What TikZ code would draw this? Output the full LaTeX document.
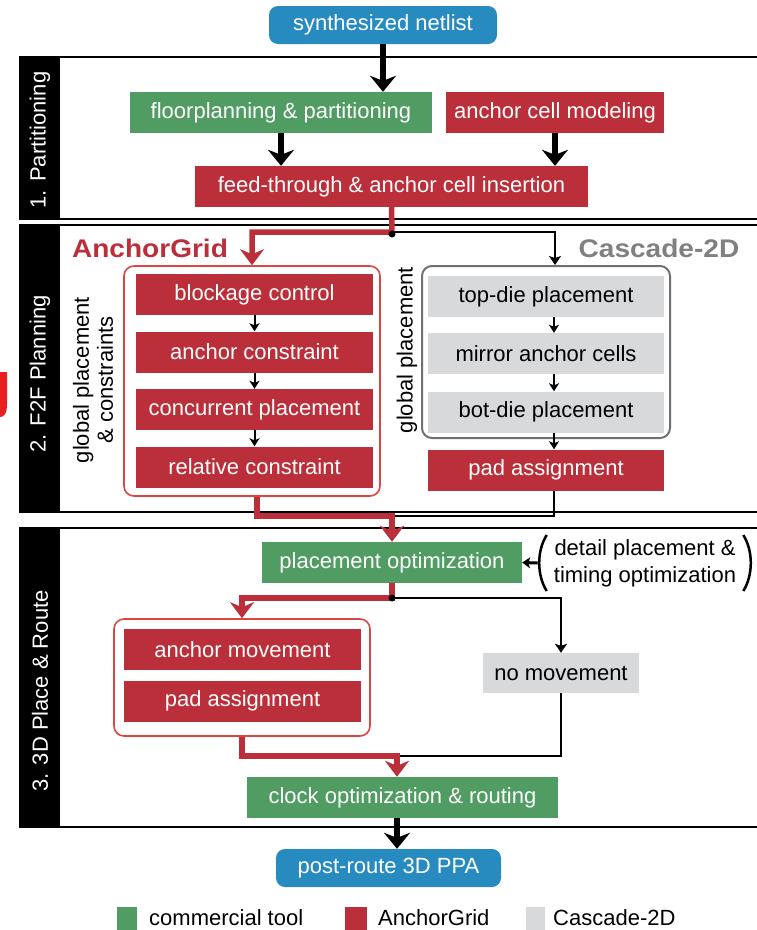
\documentclass[tikz,border=0pt]{standalone}
\usepackage{fontspec}
\setmainfont{Liberation Sans}
\usetikzlibrary{arrows.meta,calc}
\definecolor{toolgreen}{RGB}{80,156,98}
\definecolor{agred}{RGB}{186,47,57}
\definecolor{cgray}{RGB}{216,217,219}
\definecolor{flowblue}{RGB}{40,139,192}
\definecolor{framered}{RGB}{222,68,68}
\definecolor{labelgray}{RGB}{128,128,128}
\definecolor{framegray}{RGB}{112,112,112}
\definecolor{markred}{RGB}{232,32,32}

\begin{document}
\begin{tikzpicture}[x=1pt,y=-1pt,
  every node/.style={font=\fontsize{22}{26}\selectfont},
  box/.style={rectangle, inner sep=0pt, minimum height=41pt, text=white},
  gbox/.style={box, fill=toolgreen},
  rbox/.style={box, fill=agred},
  cbox/.style={box, fill=cgray, text=black},
  bbox/.style={box, fill=flowblue, rounded corners=9pt, minimum height=38pt},
  groupframe/.style={rectangle, inner sep=0pt, rounded corners=10pt},
  bigarrow/.style={line width=6pt, -{Stealth[length=16pt,width=26pt,inset=5pt]}},
  redline/.style={line width=5.5pt, draw=agred},
  redarrow/.style={redline, -{Stealth[length=16pt,width=24pt,inset=5pt]}},
  blackline/.style={line width=2.2pt},
  blackarrow/.style={blackline, -{Stealth[length=9pt,width=12pt,inset=2pt]}},
  smallarrow/.style={line width=2pt, -{Stealth[length=8pt,width=10pt,inset=2pt]}},
  parenarrow/.style={line width=3pt, -{Stealth[length=8pt,width=11pt,inset=2pt]}},
  sectionlabel/.style={rotate=90, text=white},
  grouplabel/.style={font=\fontsize{25.5}{28}\selectfont\bfseries},
]
\useasboundingbox (0,0) rectangle (756,930);

% section frames with their black side bars
\foreach \ytop/\ybot in {57/219, 225/512, 528/827} {
  \draw[line width=2pt] (19,\ytop) -- (770,\ytop);
  \draw[line width=2pt] (19,\ybot) -- (770,\ybot);
  \fill (19,\ytop) rectangle (60,\ybot);
}
\node[sectionlabel] (lab1) at (40,140) {1. Partitioning};
\node[sectionlabel] (lab2) at (40,374) {2. F2F Planning};
\node[sectionlabel] (lab3) at (40,691) {3. 3D Place \& Route};

% red mark at the left edge
\fill[markred] (0,372) -- (7,372) -- (7,404) .. controls (7,414) and (4,417) .. (0,417) -- cycle;

% 1. partitioning
\node[bbox, minimum width=228pt] (net) at (383,25) {synthesized netlist};
\node[gbox, minimum width=302pt] (fp) at (281,112.5) {floorplanning \& partitioning};
\node[rbox, minimum width=218pt] (acm) at (555,112.5) {anchor cell modeling};
\node[rbox, minimum width=393pt] (ft) at (391.5,186.5) {feed-through \& anchor cell insertion};
\draw[bigarrow] (net.south) -- (net.south |- fp.north);
\draw[bigarrow] (fp.south) -- (fp.south |- ft.north);
\draw[bigarrow] (acm.south) -- (acm.south |- ft.north);

% 2. F2F planning: AnchorGrid branch
\node[grouplabel, text=agred] (aglabel) at (150,248) {\scalebox{1.1}[1]{AnchorGrid}};
\node[groupframe, draw=framered, line width=1.6pt, minimum width=256pt, minimum height=230pt] (agframe) at (252,381) {};
\node[rbox, minimum width=237pt] (bc) at (254.5,294.5) {blockage control};
\node[rbox, minimum width=237pt] (ac) at (254.5,352) {anchor constraint};
\node[rbox, minimum width=237pt] (cp) at (254.5,409.5) {concurrent placement};
\node[rbox, minimum width=237pt] (rc) at (254.5,467) {relative constraint};
\draw[smallarrow] (bc.south) -- (ac.north);
\draw[smallarrow] (ac.south) -- (cp.north);
\draw[smallarrow] (cp.south) -- (rc.north);
\node[rotate=90, align=center, font=\fontsize{22}{24}\selectfont] (gpc) at (93,380) {global placement\\\& constraints};

% 2. F2F planning: Cascade-2D branch
\node[grouplabel, text=labelgray] (cslabel) at (659,248) {\scalebox{1.1}[1]{Cascade-2D}};
\node[groupframe, draw=framegray, line width=2pt, minimum width=248pt, minimum height=172pt] (cfr) at (546,352) {};
\node[cbox, minimum width=236pt] (td) at (546,296.5) {top-die placement};
\node[cbox, minimum width=236pt] (mac) at (546,353.5) {mirror anchor cells};
\node[cbox, minimum width=236pt] (bd) at (546,412) {bot-die placement};
\node[rbox, minimum width=236pt] (pa) at (546,470) {pad assignment};
\draw[smallarrow] ($(td.south)+(8,0)$) -- ($(mac.north)+(8,0)$);
\draw[smallarrow] ($(mac.south)+(8,0)$) -- ($(bd.north)+(8,0)$);
\draw[smallarrow] ($(bd.south)+(8,0)$) -- ($(pa.north)+(8,0)$);
\node[rotate=90] (gp) at (407,350) {global placement};

% split after feed-through insertion
\coordinate (j1) at (392,232);
\draw[blackarrow] (j1) -| ($(cfr.north)+(9,0)$);
\draw[redarrow] (ft.south) -- (j1) -| (agframe.north);
\fill (392,234) circle (3.5pt);

% 3. 3D place & route
\node[gbox, minimum width=260pt] (popt) at (392,562.5) {placement optimization};
\node[align=center, inner xsep=16pt, inner ysep=2pt, font=\fontsize{22}{27}\selectfont] (detail) at (645,563) {detail placement \&\\timing optimization};
\draw[line width=2.5pt] ($(detail.west)+(9,-28)$) .. controls ($(detail.west)+(-1,-12)$) and ($(detail.west)+(-1,12)$) .. ($(detail.west)+(9,28)$);
\draw[line width=2.5pt] ($(detail.east)+(-9,-28)$) .. controls ($(detail.east)+(1,-12)$) and ($(detail.east)+(1,12)$) .. ($(detail.east)+(-9,28)$);
\draw[parenarrow] (detail.west) -- (popt.east);

% merge after F2F planning
\coordinate (m1) at (392,516);
\draw[blackline] ($(pa.south)+(8,0)$) |- (m1);
\draw[redarrow] ($(agframe.south)+(5,0)$) |- (m1) -- (popt.north);

\node[groupframe, draw=framered, line width=1.6pt, minimum width=256pt, minimum height=117pt] (amframe) at (242,677.5) {};
\node[rbox, minimum width=237pt] (am) at (242.5,649.5) {anchor movement};
\node[rbox, minimum width=237pt] (pa2) at (242.5,701) {pad assignment};
\node[cbox, minimum width=156pt, minimum height=40pt] (nm) at (561,673) {no movement};

\coordinate (j2) at (392,598);
\draw[blackarrow] (j2) -| (nm.north);
\draw[redarrow] (popt.south) -- (j2) -| (amframe.north);
\fill (j2) circle (3.5pt);

\node[gbox, minimum width=311pt] (clk) at (402.5,797.5) {clock optimization \& routing};
\node[bbox, minimum width=225pt] (ppa) at (388.5,868) {post-route 3D PPA};

\coordinate (m2) at (397,756);
\draw[blackline] (nm.south) |- (m2);
\draw[redarrow] (amframe.south) |- (m2) -- (m2 |- clk.north);
\draw[bigarrow] (m2 |- clk.south) -- (m2 |- ppa.north);

% legend
\fill[toolgreen] (117,907) rectangle (137,932);
\node[anchor=west, inner sep=0pt] (lg1) at (149,918) {commercial tool};
\fill[agred] (345,907) rectangle (367,932);
\node[anchor=west, inner sep=0pt] (lg2) at (378,918) {AnchorGrid};
\fill[cgray] (526,907) rectangle (545,932);
\node[anchor=west, inner sep=0pt] (lg3) at (553,918) {Cascade-2D};
\end{tikzpicture}
\end{document}
